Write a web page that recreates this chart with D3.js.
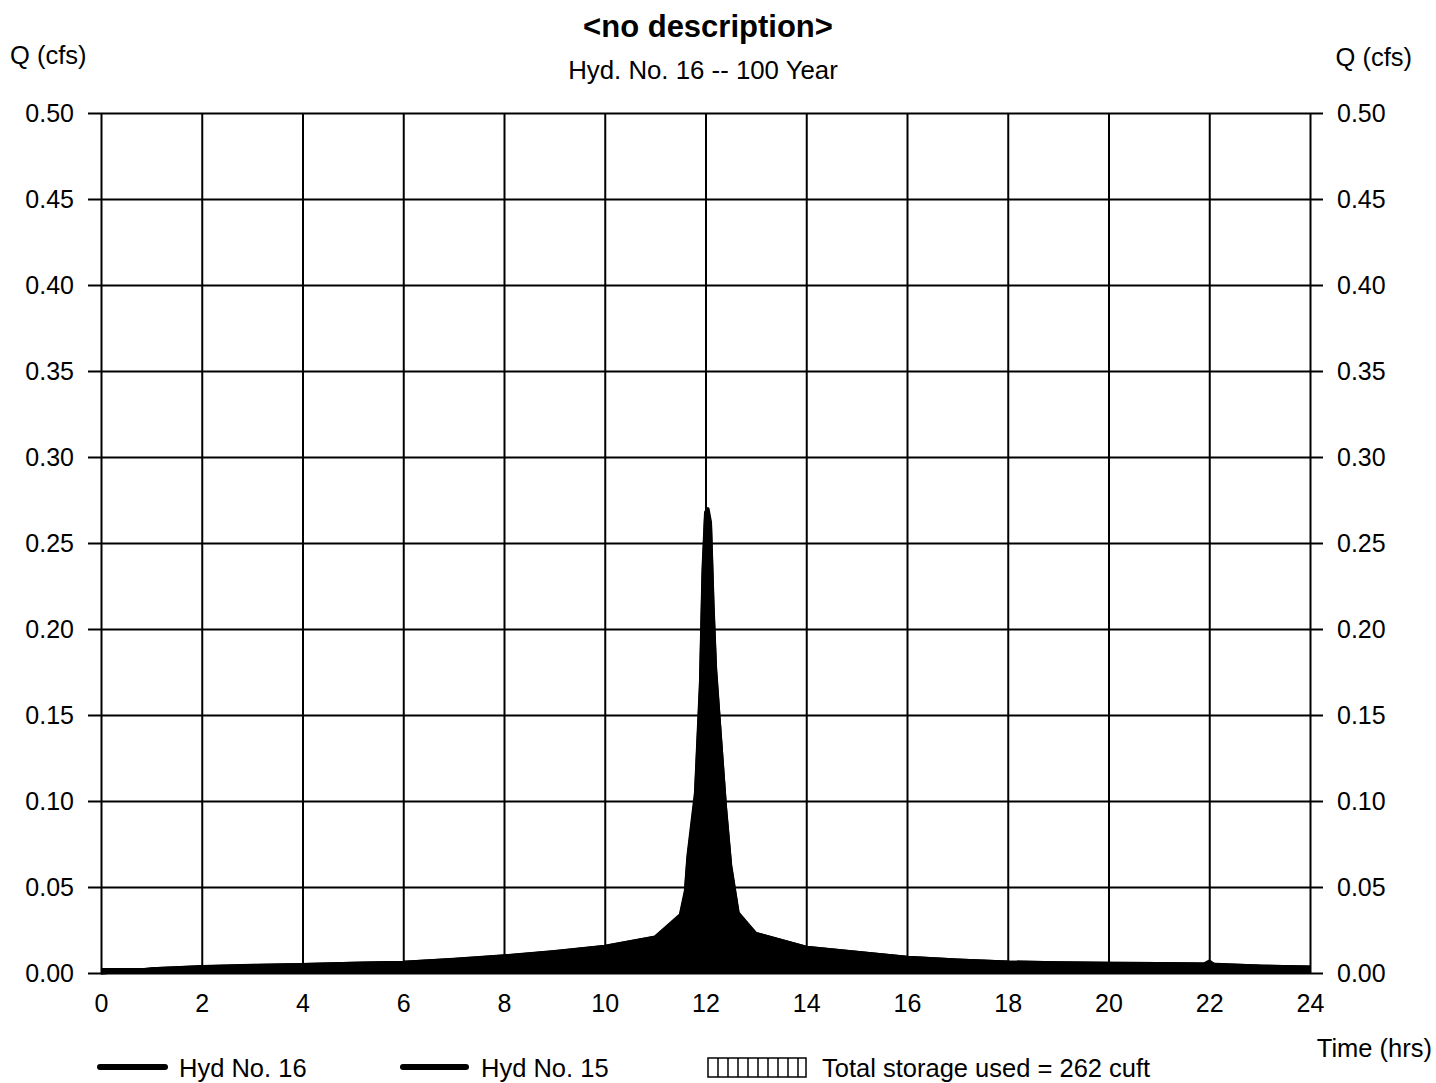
<!DOCTYPE html>
<html>
<head>
<meta charset="utf-8">
<script src="https://cdn.jsdelivr.net/npm/d3@7"></script>
<style>
  html, body { margin: 0; padding: 0; background: #fff; }
  svg { display: block; font-family: "Liberation Sans", Arial, sans-serif; }
</style>
</head>
<body>
<svg id="chart" width="1436" height="1083"></svg>
<script>
// ---- data ----
const title = "<no description>";
const subtitle = "Hyd. No. 16 -- 100 Year";
const xTicks = [0, 2, 4, 6, 8, 10, 12, 14, 16, 18, 20, 22, 24];
const yTicks = [0.00, 0.05, 0.10, 0.15, 0.20, 0.25, 0.30, 0.35, 0.40, 0.45, 0.50];

// Hyd No. 15 (inflow): time (hrs), Q (cfs)
const hyd15Time = [0, 0.5, 1, 2, 3, 4, 5, 6, 7, 8, 9, 10, 11, 11.5, 11.6, 11.65, 11.8, 11.9, 11.95, 12.0, 12.05, 12.1, 12.15, 12.2, 12.4, 12.5, 12.65, 13.0, 14, 15, 16, 17, 18, 19, 20, 21, 21.9, 22.0, 22.1, 23, 24];
const hyd15Q    = [0, 0.001, 0.0025, 0.0038, 0.0045, 0.005, 0.0057, 0.0063, 0.008, 0.010, 0.0125, 0.0155, 0.021, 0.034, 0.048, 0.068, 0.105, 0.17, 0.235, 0.268, 0.27, 0.262, 0.215, 0.178, 0.095, 0.062, 0.034, 0.023, 0.015, 0.012, 0.0092, 0.0075, 0.0064, 0.006, 0.0057, 0.0055, 0.0053, 0.007, 0.005, 0.004, 0.0035];

// Hyd No. 16 (outflow)
const hyd16Time = [0, 0.5, 1, 2, 3, 4, 5, 6, 7, 8, 9, 10, 11, 11.5, 11.6, 11.65, 11.8, 11.9, 11.95, 12.0, 12.05, 12.1, 12.15, 12.2, 12.4, 12.5, 12.65, 13.0, 14, 15, 16, 17, 18, 19, 20, 21, 22, 23, 24];
const hyd16Q    = [0, 0.001, 0.0024, 0.0037, 0.0044, 0.005, 0.0056, 0.0062, 0.0079, 0.0099, 0.0124, 0.0154, 0.0208, 0.033, 0.046, 0.066, 0.102, 0.166, 0.23, 0.265, 0.268, 0.26, 0.212, 0.176, 0.096, 0.063, 0.035, 0.023, 0.015, 0.012, 0.0092, 0.0075, 0.0064, 0.006, 0.0057, 0.0055, 0.0053, 0.004, 0.0035];

const legendLabels = ["Hyd No. 16", "Hyd No. 15", "Total storage used = 262 cuft"];

// ---- layout ----
const svg = d3.select("#chart");
const m = { left: 101, right: 1310, top: 113, bottom: 973 };
const W = m.right - m.left, H = m.bottom - m.top;

const x = d3.scaleLinear().domain([0, 24]).range([m.left, m.right]);
const y = d3.scaleLinear().domain([0, 0.5]).range([m.bottom, m.top]);

const g = svg.append("g");
const FF = "Liberation Sans, Arial, sans-serif";

// grid: horizontal lines (extend 13px beyond frame on both sides as ticks)
const hGrid = g.append("g").attr("transform", `translate(${m.left - 13},0)`)
  .call(d3.axisRight(y).tickValues(yTicks).tickSize(W + 26).tickFormat(""));
hGrid.select(".domain").remove();
hGrid.selectAll("line").attr("stroke", "#000").attr("stroke-width", 2);

// vertical grid
const vGrid = g.append("g").attr("transform", `translate(0,${m.top})`)
  .call(d3.axisBottom(x).tickValues(xTicks).tickSize(H).tickFormat(""));
vGrid.select(".domain").remove();
vGrid.selectAll("line").attr("stroke", "#000").attr("stroke-width", 2);

// hydrographs
const d15 = hyd15Time.map((t, i) => ({ t, q: hyd15Q[i] }));
const d16 = hyd16Time.map((t, i) => ({ t, q: hyd16Q[i] }));
const area = d3.area().x(d => x(d.t)).y0(y(0)).y1(d => y(d.q));
const line = d3.line().x(d => x(d.t)).y(d => y(d.q));

g.append("path").datum(d15).attr("d", area).attr("fill", "#000");
g.append("path").datum(d15).attr("d", line).attr("fill", "none").attr("stroke", "#000").attr("stroke-width", 3).attr("stroke-linejoin", "round");
g.append("path").datum(d16).attr("d", area).attr("fill", "#000");
g.append("path").datum(d16).attr("d", line).attr("fill", "none").attr("stroke", "#000").attr("stroke-width", 3).attr("stroke-linejoin", "round");
// thick baseline band
g.append("line").attr("x1", x(0)).attr("x2", x(24)).attr("y1", y(0) - 2).attr("y2", y(0) - 2)
  .attr("stroke", "#000").attr("stroke-width", 6);

// axes labels
const fs = 25;
const leftAx = g.append("g").attr("transform", `translate(${m.left - 13},0)`)
  .call(d3.axisLeft(y).tickValues(yTicks).tickSize(0).tickPadding(14).tickFormat(d3.format(".2f")));
leftAx.select(".domain").remove();
leftAx.selectAll("text").attr("font-size", fs).attr("fill", "#000").attr("font-family", FF);

const rightAx = g.append("g").attr("transform", `translate(${m.right + 13},0)`)
  .call(d3.axisRight(y).tickValues(yTicks).tickSize(0).tickPadding(14).tickFormat(d3.format(".2f")));
rightAx.select(".domain").remove();
rightAx.selectAll("text").attr("font-size", fs).attr("fill", "#000").attr("font-family", FF);

const botAx = g.append("g").attr("transform", `translate(0,${m.bottom})`)
  .call(d3.axisBottom(x).tickValues(xTicks).tickSize(0).tickPadding(21).tickFormat(d3.format("d")));
botAx.select(".domain").remove();
botAx.selectAll("text").attr("font-size", fs).attr("fill", "#000").attr("font-family", FF);

// titles
svg.append("text").attr("x", 708).attr("y", 37).attr("text-anchor", "middle")
  .attr("font-size", 31).attr("font-weight", "bold").text(title);
svg.append("text").attr("x", 703).attr("y", 79).attr("text-anchor", "middle")
  .attr("font-size", 25.8).text(subtitle);
svg.append("text").attr("x", 10).attr("y", 64).attr("font-size", 25.5).text("Q (cfs)");
svg.append("text").attr("x", 1412).attr("y", 66).attr("text-anchor", "end").attr("font-size", 25.5).text("Q (cfs)");
svg.append("text").attr("x", 1432).attr("y", 1057).attr("text-anchor", "end").attr("font-size", 25.5).text("Time (hrs)");

// legend
const ly = 1067;
const leg = svg.append("g");
[[100, 165, 179], [403, 466, 481]].forEach((p, i) => {
  leg.append("line").attr("x1", p[0]).attr("x2", p[1]).attr("y1", ly).attr("y2", ly)
    .attr("stroke", "#000").attr("stroke-width", 6).attr("stroke-linecap", "round");
  leg.append("text").attr("x", p[2]).attr("y", ly + 10).attr("font-size", 25.5).text(legendLabels[i]);
});
// hatch box
const bx = 708, bw = 98, by = 1058, bh = 19;
leg.append("rect").attr("x", bx).attr("y", by).attr("width", bw).attr("height", bh)
  .attr("fill", "none").attr("stroke", "#000").attr("stroke-width", 1.5);
d3.range(bx + 10, bx + bw, 10).forEach(v => {
  leg.append("line").attr("x1", v).attr("x2", v).attr("y1", by).attr("y2", by + bh)
    .attr("stroke", "#000").attr("stroke-width", 1.5);
});
leg.append("text").attr("x", 822).attr("y", ly + 10).attr("font-size", 25.5).text(legendLabels[2]);
</script>
</body>
</html>
